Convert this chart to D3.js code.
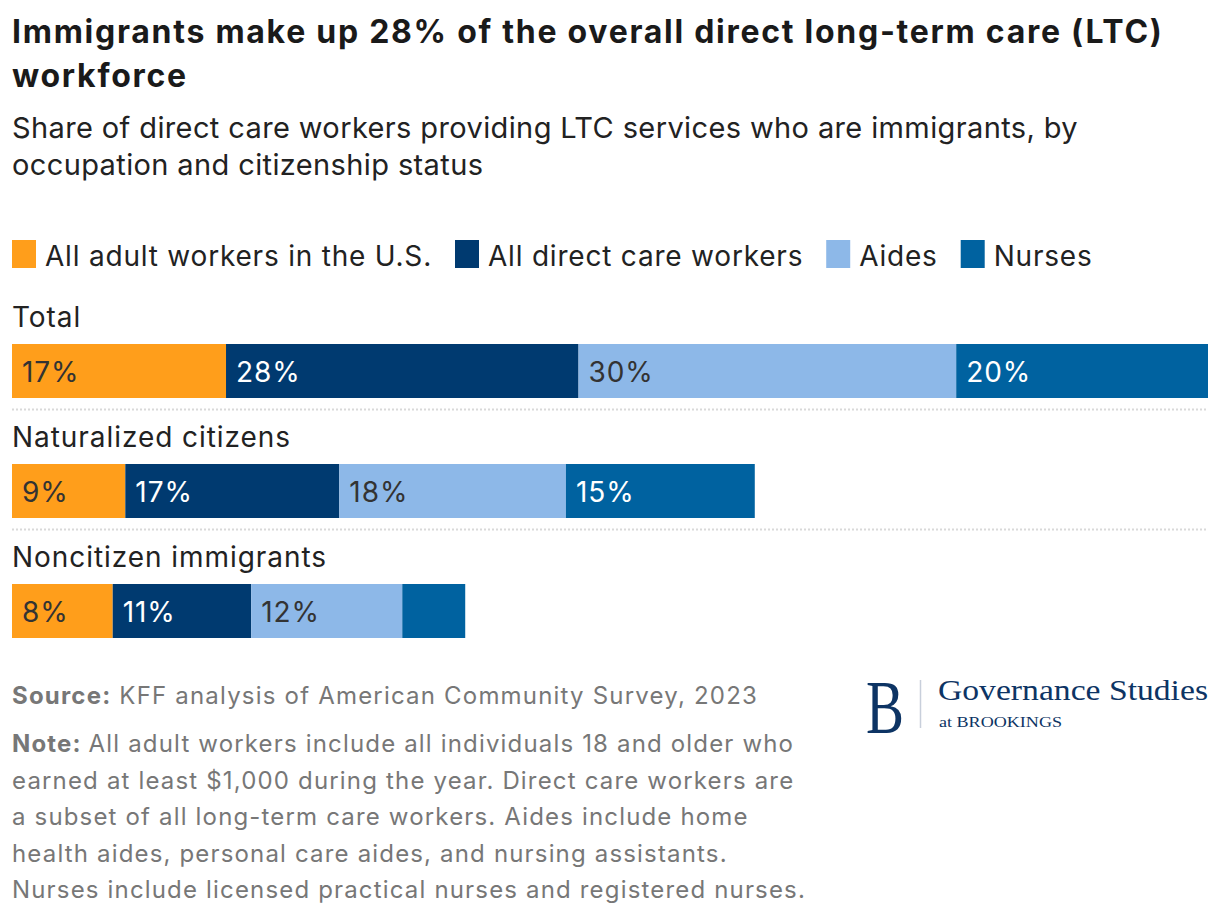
<!DOCTYPE html>
<html>
<head>
<meta charset="utf-8">
<script src="https://cdn.jsdelivr.net/npm/d3@7"></script>
<style>
  body { margin: 0; background: #fff; }
  svg { font-family: Inter, "Noto Sans", sans-serif; }
</style>
</head>
<body>
<div id="chart"></div>
<script>
var groups = ['Total', 'Naturalized citizens', 'Noncitizen immigrants'];
var series = ['All adult workers in the U.S.', 'All direct care workers', 'Aides', 'Nurses'];
var adultWorkers = [17, 9, 8];
var directCare = [28, 17, 11];
var aides = [30, 18, 12];
var nurses = [20, 15, 5];
var colors = ['#ff9e1b', '#003a70', '#8db8e8', '#0062a0'];
var labelColors = ['#333333', '#ffffff', '#333333', '#ffffff'];

var noteLines = [
  'All adult workers include all individuals 18 and older who',
  'earned at least $1,000 during the year. Direct care workers are',
  'a subset of all long-term care workers. Aides include home',
  'health aides, personal care aides, and nursing assistants.',
  'Nurses include licensed practical nurses and registered nurses.'
];

var width = 1220, height = 920;

var svg = d3.select('#chart')
  .append('svg')
  .attr('width', width)
  .attr('height', height);

// stretch letter spacing so a line ends where the reference line ends
function fitSpacing(sel, target) {
  var w = sel.node().getComputedTextLength();
  var n = sel.text().length;
  var ls = (target - w) / n;
  sel.attr('letter-spacing', ls);
  return ls;
}

// title + subtitle
var t1 = svg.append('text').attr('x', 12).attr('y', 43)
  .attr('font-size', 32).attr('font-weight', 700).attr('fill', '#1a1a1a')
  .text('Immigrants make up 28% of the overall direct long-term care (LTC)');
var titleLs = fitSpacing(t1, 1151);
svg.append('text').attr('x', 12).attr('y', 87)
  .attr('font-size', 32).attr('font-weight', 700).attr('fill', '#1a1a1a')
  .attr('letter-spacing', titleLs)
  .text('workforce');
var s1 = svg.append('text').attr('x', 12).attr('y', 138)
  .attr('font-size', 29).attr('fill', '#222')
  .text('Share of direct care workers providing LTC services who are immigrants, by');
var subLs = fitSpacing(s1, 1066);
svg.append('text').attr('x', 12).attr('y', 175)
  .attr('font-size', 29).attr('fill', '#222')
  .attr('letter-spacing', subLs)
  .text('occupation and citizenship status');

// legend
var legend = svg.append('g').attr('transform', 'translate(12,240)');
var lx = 0, legLs = null;
series.forEach(function(s, i) {
  var g = legend.append('g').attr('transform', 'translate(' + lx + ',0)');
  g.append('rect').attr('width', 24).attr('height', 28).attr('fill', colors[i]);
  var t = g.append('text').attr('x', 33).attr('y', 26)
    .attr('font-size', 28).attr('fill', '#222').text(s);
  if (legLs === null) legLs = fitSpacing(t, 387);
  else t.attr('letter-spacing', legLs);
  lx += 33 + t.node().getComputedTextLength() + 23;
});

// data table
var rows = groups.map(function(g, i) {
  return { group: g, values: [adultWorkers[i], directCare[i], aides[i], nurses[i]] };
});

var x = d3.scaleLinear()
  .domain([0, d3.max(rows, function(r) { return d3.sum(r.values); })])
  .range([12, 1208]);

var y = d3.scaleBand()
  .domain(groups)
  .range([290, 650])
  .paddingInner(0);

var row = svg.selectAll('.row')
  .data(rows)
  .enter()
  .append('g')
  .attr('class', 'row')
  .attr('transform', function(d) { return 'translate(0,' + y(d.group) + ')'; });

var rowLabels = row.append('text')
  .attr('x', 12).attr('y', 37)
  .attr('font-size', 28).attr('fill', '#222')
  .text(function(d) { return d.group; });
var rowLs = fitSpacing(d3.select(rowLabels.nodes()[2]), 315);
rowLabels.attr('letter-spacing', rowLs);

row.each(function(d) {
  var g = d3.select(this);
  var stacked = [];
  var acc = 0;
  d.values.forEach(function(v, i) {
    stacked.push({ x0: acc, x1: acc + v, v: v, i: i });
    acc += v;
  });
  g.selectAll('rect')
    .data(stacked)
    .enter()
    .append('rect')
    .attr('x', function(s) { return x(s.x0); })
    .attr('y', 54)
    .attr('width', function(s) { return x(s.x1) - x(s.x0); })
    .attr('height', 54)
    .attr('fill', function(s) { return colors[s.i]; });
  g.selectAll('.val')
    .data(stacked.filter(function(s) { return x(s.x1) - x(s.x0) > 70; }))
    .enter()
    .append('text')
    .attr('class', 'val')
    .attr('x', function(s) { return x(s.x0) + 10; })
    .attr('y', 92)
    .attr('font-size', 28)
    .attr('letter-spacing', rowLs)
    .attr('fill', function(s) { return labelColors[s.i]; })
    .text(function(s) { return s.v + '%'; });
});

// dotted separators
svg.selectAll('.sep')
  .data(groups.slice(0, 2))
  .enter()
  .append('line')
  .attr('class', 'sep')
  .attr('x1', 12).attr('x2', 1208)
  .attr('y1', function(g) { return y(g) + 119.5; })
  .attr('y2', function(g) { return y(g) + 119.5; })
  .attr('stroke', '#d9d9d9')
  .attr('stroke-width', 2)
  .attr('stroke-dasharray', '2,2');

// source + note
var src = svg.append('text').attr('x', 12).attr('y', 704)
  .attr('font-size', 24).attr('fill', '#777');
src.append('tspan').attr('font-weight', 700).text('Source:');
src.append('tspan').text(' KFF analysis of American Community Survey, 2023');
var srcLs = fitSpacing(src, 746);

var notes = svg.selectAll('.note')
  .data(noteLines)
  .enter()
  .append('text')
  .attr('class', 'note')
  .attr('x', 12)
  .attr('y', function(d, i) { return 752 + i * 36.6; })
  .attr('font-size', 24)
  .attr('fill', '#777')
  .each(function(d, i) {
    var t = d3.select(this);
    if (i === 0) t.append('tspan').attr('font-weight', 700).text('Note: ');
    t.append('tspan').text(d);
  });
var noteLs = fitSpacing(d3.select(notes.nodes()[4]), 794);
notes.attr('letter-spacing', noteLs);

// logo
var logo = svg.append('g').attr('fill', '#0d3464')
  .style('font-family', '"Liberation Serif", "DejaVu Serif", serif');
logo.append('text').attr('x', 866).attr('y', 733)
  .attr('font-size', 76)
  .attr('textLength', 38).attr('lengthAdjust', 'spacingAndGlyphs')
  .text('B');
logo.append('line').attr('x1', 920.5).attr('x2', 920.5).attr('y1', 680).attr('y2', 728)
  .attr('stroke', '#c8cfdb').attr('stroke-width', 1.5);
logo.append('text').attr('x', 938).attr('y', 700)
  .attr('font-size', 29)
  .attr('textLength', 270).attr('lengthAdjust', 'spacingAndGlyphs')
  .text('Governance Studies');
logo.append('text').attr('x', 939).attr('y', 727)
  .attr('font-size', 15)
  .attr('textLength', 123).attr('lengthAdjust', 'spacingAndGlyphs')
  .text('at BROOKINGS');
</script>
</body>
</html>
